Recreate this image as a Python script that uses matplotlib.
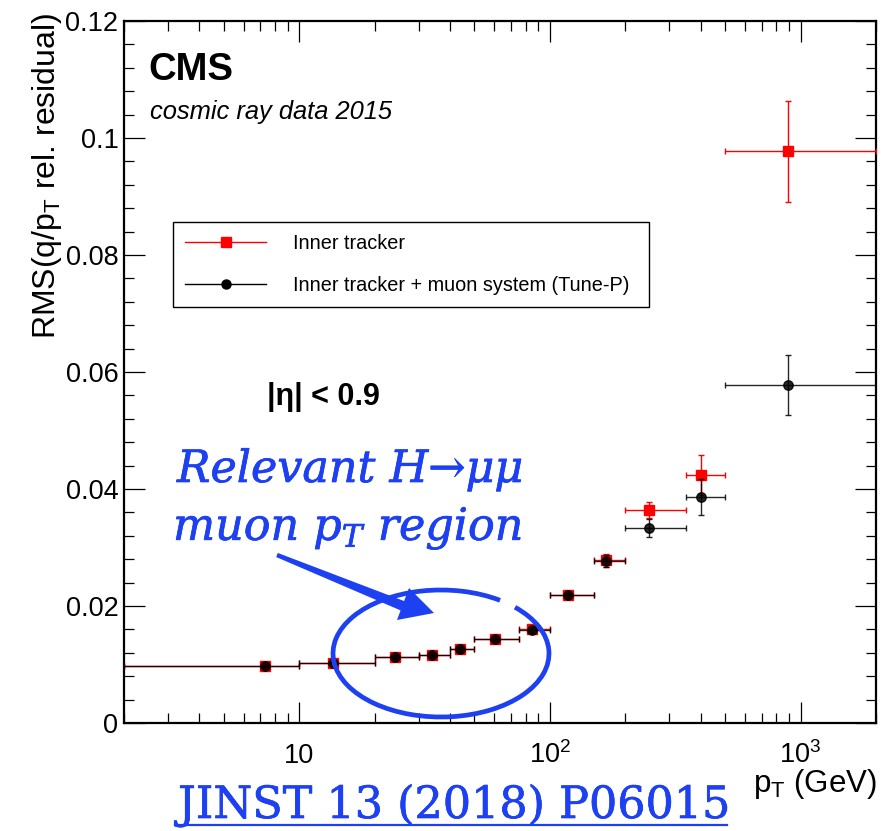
import numpy as np
import matplotlib
matplotlib.use("Agg")
import matplotlib.pyplot as plt
import matplotlib.patheffects as pe
from matplotlib.lines import Line2D
from matplotlib.patches import Polygon, Arc
from matplotlib.ticker import FixedLocator, LogLocator, NullFormatter, MultipleLocator

plt.rcParams['font.family'] = ['Liberation Sans', 'DejaVu Sans']

# ---- data ----
bin_lo = np.array([2, 10, 20, 30, 40, 50, 75, 100, 150, 200, 350, 500])
bin_hi = np.array([10, 20, 30, 40, 50, 75, 100, 150, 200, 350, 500, 2000])
pt_mean = np.array([7.3, 13.7, 24, 34, 43.8, 60.4, 84.7, 118, 167, 249, 400, 890])

rms_tunep = np.array([0.0097, 0.0103, 0.0113, 0.0116, 0.0126, 0.0144, 0.0159,
                      0.0218, 0.0277, 0.0333, 0.0386, 0.0578])
err_tunep = np.array([0.0002, 0.0002, 0.0003, 0.0003, 0.0004, 0.0004, 0.0005,
                      0.0005, 0.0010, 0.0015, 0.0031, 0.0051])
rms_inner = np.array([0.0097, 0.0103, 0.0113, 0.0116, 0.0127, 0.0144, 0.0160,
                      0.0219, 0.0278, 0.0364, 0.0424, 0.0977])
err_inner = np.array([0.0002, 0.0002, 0.0003, 0.0003, 0.0004, 0.0004, 0.0005,
                      0.0005, 0.0011, 0.0014, 0.0034, 0.0086])

xtick_vals = [10, 100, 1000]
xtick_labels = ["10", r"10$^{\mathregular{2}}$", r"10$^{\mathregular{3}}$"]
ytick_vals = [0, 0.02, 0.04, 0.06, 0.08, 0.10, 0.12]
ytick_labels = ["0", "0.02", "0.04", "0.06", "0.08", "0.1", "0.12"]
legend_labels = ["Inner tracker", "Inner tracker + muon system (Tune-P)"]

W, H = 883, 831
fig = plt.figure(figsize=(W / 100, H / 100), dpi=100)
ax = fig.add_axes([124 / W, 1 - 723 / H, (876 - 124) / W, (723 - 21) / H])

xerr_lo = pt_mean - bin_lo
xerr_hi = bin_hi - pt_mean

ax.errorbar(pt_mean, rms_inner, yerr=err_inner, xerr=[xerr_lo, xerr_hi],
            fmt='s', color='red', ms=7, elinewidth=1.0, capsize=2.5,
            capthick=1.0, zorder=3)
ax.errorbar(pt_mean, rms_tunep, yerr=err_tunep, xerr=[xerr_lo, xerr_hi],
            fmt='o', color='black', ms=6.8, elinewidth=1.0, capsize=2.5,
            capthick=1.0, zorder=4, alpha=0.85)

ax.set_xscale('log')
ax.set_xlim(2, 2000)
ax.set_ylim(0, 0.12)

ax.xaxis.set_major_locator(FixedLocator(xtick_vals))
ax.set_xticklabels(xtick_labels)
ax.xaxis.set_minor_locator(LogLocator(base=10, subs=np.arange(2, 10)))
ax.xaxis.set_minor_formatter(NullFormatter())
ax.yaxis.set_major_locator(FixedLocator(ytick_vals))
ax.set_yticklabels(ytick_labels)
ax.yaxis.set_minor_locator(MultipleLocator(0.004))

ax.tick_params(which='both', direction='in', top=True, right=True, width=0.9,
               labelsize=19.5)
ax.tick_params(which='major', length=15)
ax.tick_params(which='minor', length=7.5)
ax.tick_params(axis='y', pad=4)
ax.tick_params(axis='x', pad=29)
for lab in ax.get_xticklabels():
    lab.set_verticalalignment('baseline')
for s in ax.spines.values():
    s.set_linewidth(1.6)

ax.set_xlabel(r"p$_{\mathregular{T}}$ (GeV)", fontsize=22.5, loc='right')
ax.xaxis.set_label_coords(1.002, -0.063)
ax.set_ylabel(r"RMS(q/p$_{\mathregular{T}}$ rel. residual)", fontsize=23, loc='top')
ax.yaxis.set_label_coords(-0.08, 1.012)

handles = [Line2D([], [], color='red', marker='s', ms=7, lw=1.0),
           Line2D([], [], color='black', marker='o', ms=6.5, lw=1.0)]
leg = ax.legend(handles, legend_labels, loc='upper left',
                bbox_to_anchor=(173 / W, 1 - 222 / H, (649 - 173) / W, 0),
                bbox_transform=fig.transFigure, mode='expand',
                frameon=True, fancybox=False, edgecolor='black', framealpha=1,
                borderaxespad=0, borderpad=0.6, labelspacing=1.15,
                handlelength=4.1, handletextpad=1.35, fontsize=14.3)
leg.get_frame().set_linewidth(1.0)

# ---- overlay in pixel coordinates for annotations ----
ov = fig.add_axes([0, 0, 1, 1], facecolor='none')
ov.set_xlim(0, W)
ov.set_ylim(H, 0)
ov.axis('off')

ov.text(148, 80, "CMS", fontsize=27.5, fontweight='bold', ha='left', va='baseline')
ov.text(150, 119, "cosmic ray data 2015", fontsize=18.4, style='italic',
        ha='left', va='baseline')
ov.text(267, 405, "|η| < 0.9", fontsize=22, fontweight='bold', ha='left',
        va='baseline')

blue = '#1c40f2'
thick = [pe.withStroke(linewidth=0.5, foreground=blue)]
ov.text(177, 482, "Relevant H→μμ", fontsize=32, style='italic', color=blue,
        family=['DejaVu Serif', 'DejaVu Sans'], ha='left', va='baseline',
        path_effects=thick)
ov.text(173, 540, r"muon $p_T$ region", fontsize=32, style='italic',
        color=blue, family=['DejaVu Serif', 'DejaVu Sans'],
        math_fontfamily='dejavuserif', ha='left', va='baseline',
        path_effects=thick)

# arrow: tapered shaft + head
tail = np.array([277.0, 555.0])
neck = np.array([403.0, 606.0])
d = (neck - tail) / np.linalg.norm(neck - tail)
n = np.array([-d[1], d[0]])
shaft = [tail + n * 2.2, neck + n * 5, neck - n * 5, tail - n * 2.2]
ov.add_patch(Polygon(shaft, closed=True, color=blue, lw=0))
ov.add_patch(Polygon([[397, 620], [409, 588], [434, 613]], closed=True,
                     color=blue, lw=0))

ov.add_patch(Arc((441, 653.5), 216, 127, angle=0, theta1=-32, theta2=318,
                 color=blue, lw=3.4))

ov.text(178, 818, "JINST 13 (2018) P06015", fontsize=32, color=blue,
        family='DejaVu Serif', ha='left', va='baseline', path_effects=thick)
ov.plot([175, 727], [825, 825], color=blue, lw=1.6)

fig.savefig("out.png", dpi=100)
